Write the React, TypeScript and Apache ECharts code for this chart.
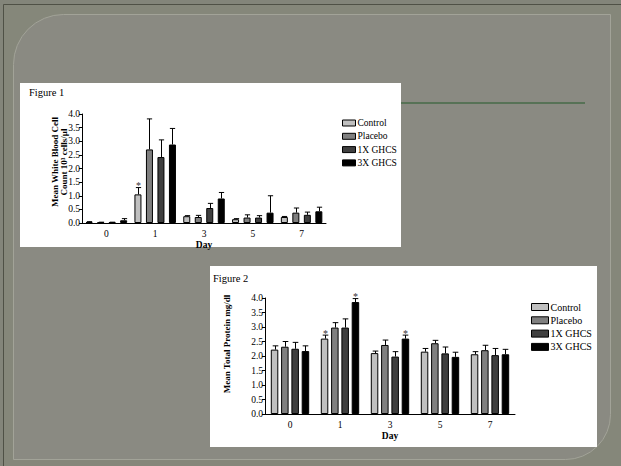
import React, { useEffect, useRef } from "react";
import * as echarts from "echarts";

const FONT = '"Liberation Serif", "Times New Roman", serif';

const days = ["0", "1", "3", "5", "7"];
const groups = ["Control", "Placebo", "1X GHCS", "3X GHCS"];
const colors = ["#c0c0c0", "#7f7f7f", "#3f3f3f", "#000000"];
const yTicks = ["0.0", "0.5", "1.0", "1.5", "2.0", "2.5", "3.0", "3.5", "4.0"];

// Figure 1: Mean White Blood Cell count (10^3 cells/µl)
const wbcControl = [0.03, 1.05, 0.25, 0.14, 0.22];
const wbcPlacebo = [0.02, 2.7, 0.22, 0.2, 0.38];
const wbc1X = [0.02, 2.42, 0.55, 0.2, 0.3];
const wbc3X = [0.1, 2.88, 0.9, 0.38, 0.43];
const wbcSemControl = [0.02, 0.25, 0.02, 0.02, 0.02];
const wbcSemPlacebo = [0.01, 1.12, 0.06, 0.1, 0.17];
const wbcSem1X = [0.01, 0.63, 0.17, 0.07, 0.1];
const wbcSem3X = [0.06, 0.59, 0.22, 0.62, 0.15];
const wbcSigControl = [0, 1, 0, 0, 0];
const wbcSigPlacebo = [0, 0, 0, 0, 0];
const wbcSig1X = [0, 0, 0, 0, 0];
const wbcSig3X = [0, 0, 0, 0, 0];

// Figure 2: Mean Total Protein (mg/dl)
const tpControl = [2.22, 2.6, 2.1, 2.15, 2.06];
const tpPlacebo = [2.32, 2.98, 2.38, 2.44, 2.2];
const tp1X = [2.25, 2.98, 1.98, 2.09, 2.03];
const tp3X = [2.17, 3.86, 2.6, 1.97, 2.06];
const tpSemControl = [0.13, 0.12, 0.07, 0.11, 0.09];
const tpSemPlacebo = [0.18, 0.17, 0.17, 0.1, 0.17];
const tpSem1X = [0.22, 0.3, 0.17, 0.22, 0.23];
const tpSem3X = [0.18, 0.12, 0.12, 0.16, 0.17];
const tpSigControl = [0, 1, 0, 0, 0];
const tpSigPlacebo = [0, 0, 0, 0, 0];
const tpSig1X = [0, 0, 0, 0, 0];
const tpSig3X = [0, 1, 1, 0, 0];

const wbcMeans = [wbcControl, wbcPlacebo, wbc1X, wbc3X];
const wbcSems = [wbcSemControl, wbcSemPlacebo, wbcSem1X, wbcSem3X];
const wbcSigs = [wbcSigControl, wbcSigPlacebo, wbcSig1X, wbcSig3X];
const tpMeans = [tpControl, tpPlacebo, tp1X, tp3X];
const tpSems = [tpSemControl, tpSemPlacebo, tpSem1X, tpSem3X];
const tpSigs = [tpSigControl, tpSigPlacebo, tpSig1X, tpSig3X];

function makeErr(i: number, w: number, g: number, fs: number) {
  const W = 4 * w + 3 * g;
  const off = -W / 2 + w / 2 + i * (w + g);
  return (params: any, api: any) => {
    const x = api.value(0);
    const m = api.value(1);
    const s = api.value(2);
    const sig = api.value(3);
    const p0 = api.coord([x, m]);
    const p1 = api.coord([x, m + s]);
    const cx = Math.round(p0[0] + off) + 0.5;
    const cap = w * 0.75;
    const children: any[] = [
      { type: "line", shape: { x1: cx, y1: p0[1], x2: cx, y2: p1[1] }, style: { stroke: "#000", lineWidth: 1 } },
      { type: "line", shape: { x1: cx - cap / 2, y1: p1[1], x2: cx + cap / 2, y2: p1[1] }, style: { stroke: "#000", lineWidth: 1 } },
    ];
    if (sig) {
      children.push({
        type: "text",
        x: cx,
        y: p1[1] + 3,
        style: { text: "*", fill: "#333", font: `${fs}px ${FONT}`, align: "center", verticalAlign: "bottom" },
      });
    }
    return { type: "group", children };
  };
}

function buildSeries(
  means: number[][],
  sems: number[][],
  sigs: number[][],
  axisIndex: number,
  w: number,
  g: number
) {
  const out: any[] = [];
  means.forEach((vals, i) => {
    out.push({
      type: "bar",
      name: groups[i],
      xAxisIndex: axisIndex,
      yAxisIndex: axisIndex,
      barWidth: w,
      barGap: `${(g / w) * 100}%`,
      data: vals,
      itemStyle: { color: colors[i], borderColor: "#000", borderWidth: 1 },
      z: 2,
    });
  });
  means.forEach((vals, i) => {
    out.push({
      type: "custom",
      name: "err" + axisIndex + "_" + i,
      xAxisIndex: axisIndex,
      yAxisIndex: axisIndex,
      renderItem: makeErr(i, w, g, 10),
      data: vals.map((v, k) => [k, v, sems[i][k], sigs[i][k]]),
      clip: false,
      z: 4,
    });
  });
  return out;
}

function yAxisCfg(gridIndex: number, fs: number) {
  return {
    type: "value",
    gridIndex,
    min: 0,
    max: 4,
    interval: 0.5,
    z: 5,
    axisLine: { show: true, lineStyle: { color: "#000", width: 1 } },
    axisTick: { show: true, length: 3, lineStyle: { color: "#000" } },
    splitLine: { show: false },
    axisLabel: {
      color: "#000",
      fontFamily: FONT,
      fontSize: fs,
      margin: 2,
      formatter: (v: number) => yTicks[Math.round(v / 0.5)] ?? v.toFixed(1),
    },
  };
}

function xAxisCfg(gridIndex: number, fs: number, gap: number) {
  return {
    type: "category",
    gridIndex,
    data: days,
    z: 5,
    name: "Day",
    nameLocation: "middle",
    nameGap: gap,
    nameTextStyle: { color: "#000", fontFamily: FONT, fontSize: fs, fontWeight: "bold" },
    axisLine: { show: true, lineStyle: { color: "#000", width: 1 } },
    axisTick: { show: false },
    axisLabel: { color: "#000", fontFamily: FONT, fontSize: fs, margin: 6 },
  };
}

export default function App() {
  const ref = useRef<HTMLDivElement>(null);
  useEffect(() => {
    if (!ref.current) return;
    const chart = echarts.init(ref.current, null, { renderer: "svg" });
    const option: any = {
      animation: false,
      backgroundColor: "#83857a",
      graphic: [
        { type: "rect", z: 0, shape: { x: 3.5, y: 4.5, width: 630, height: 480 }, style: { fill: "#85877a", stroke: "#4f5146", lineWidth: 1 } },
        { type: "rect", z: 0, shape: { x: 13.5, y: 14.5, width: 597, height: 445, r: [50, 0, 45, 0] }, style: { fill: "#8a8a82", stroke: "#a2a398", lineWidth: 1 } },
        { type: "rect", z: 0, shape: { x: 20, y: 83, width: 381, height: 164 }, style: { fill: "#ffffff" } },
        { type: "rect", z: 0, shape: { x: 210, y: 266, width: 387, height: 181 }, style: { fill: "#ffffff" } },
        { type: "line", z: 0, shape: { x1: 401, y1: 103, x2: 585, y2: 103 }, style: { stroke: "#245a2a", lineWidth: 1 } },
        { type: "text", z: 1, x: 29, y: 92, style: { text: "Figure 1", fill: "#000", font: `10.5px ${FONT}`, verticalAlign: "middle" } },
        { type: "text", z: 1, x: 213, y: 278, style: { text: "Figure 2", fill: "#000", font: `10.5px ${FONT}`, verticalAlign: "middle" } },
        {
          type: "text", z: 1, x: 59.5, y: 162, rotation: Math.PI / 2,
          style: { text: "Mean White Blood Cell\nCount 10³ cells/µl", fill: "#000", font: `bold 9px ${FONT}`, lineHeight: 8.5, align: "center", verticalAlign: "middle" },
        },
        {
          type: "text", z: 1, x: 227, y: 344, rotation: Math.PI / 2,
          style: { text: "Mean Total Protein mg/dl", fill: "#000", font: `bold 9px ${FONT}`, align: "center", verticalAlign: "middle" },
        },
      ],
      grid: [
        { left: 82, top: 114, width: 244, height: 109, containLabel: false },
        { left: 265, top: 298, width: 250, height: 116, containLabel: false },
      ],
      xAxis: [xAxisCfg(0, 9.5, 15), xAxisCfg(1, 9.5, 16)],
      yAxis: [yAxisCfg(0, 9.5), yAxisCfg(1, 9.5)],
      legend: [
        {
          data: groups,
          orient: "vertical",
          left: 337,
          top: 113,
          itemWidth: 13,
          itemHeight: 6,
          itemGap: 3.3,
          icon: "rect",
          selectedMode: false,
          itemStyle: { borderColor: "#000", borderWidth: 1 },
          textStyle: { color: "#000", fontFamily: FONT, fontSize: 9.5, lineHeight: 9, padding: [0, 0, 0, -3] },
        },
        {
          data: groups,
          orient: "vertical",
          left: 526,
          top: 297,
          itemWidth: 17,
          itemHeight: 7,
          itemGap: 3.3,
          icon: "rect",
          selectedMode: false,
          itemStyle: { borderColor: "#000", borderWidth: 1 },
          textStyle: { color: "#000", fontFamily: FONT, fontSize: 10, lineHeight: 10, padding: [0, 0, 0, -3] },
        },
      ],
      series: [
        ...buildSeries(wbcMeans, wbcSems, wbcSigs, 0, 7, 4.5),
        ...buildSeries(tpMeans, tpSems, tpSigs, 1, 7.5, 2.8),
      ],
    };
    chart.setOption(option);
    return () => chart.dispose();
  }, []);
  return <div ref={ref} style={{ position: "absolute", left: 0, top: 0, width: 621, height: 466 }} />;
}
